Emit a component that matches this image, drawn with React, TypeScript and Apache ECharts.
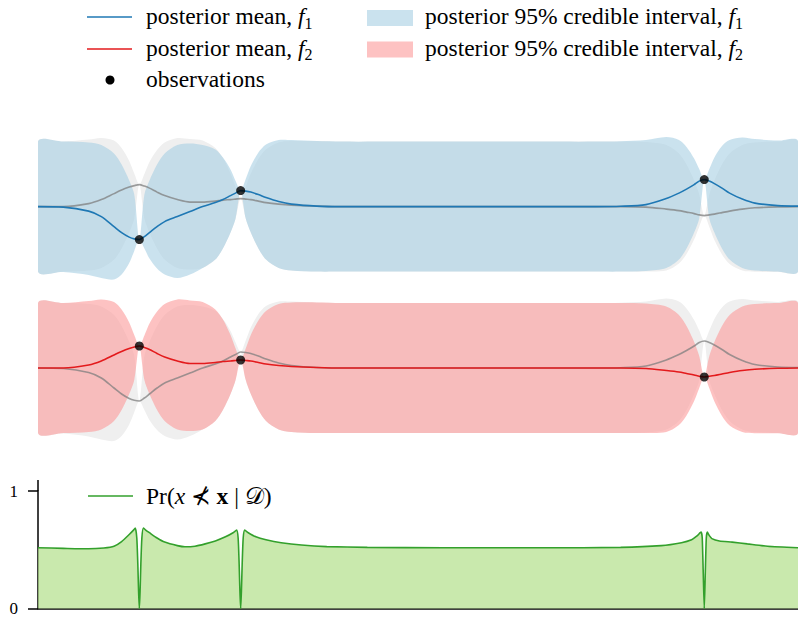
import React, { useEffect, useRef } from 'react';
import * as echarts from 'echarts';

// Shared x grid for the posterior curves (input location)
const X = [0, 0.5, 1, 1.25, 1.5, 1.65, 1.8, 1.9, 2, 2.1, 2.2, 2.35, 2.5, 2.75, 3, 3.25, 3.5, 3.65, 3.8, 3.9, 4, 4.1, 4.2, 4.35, 4.5, 4.75, 5, 5.5, 6, 7, 8, 9, 10, 11, 11.5, 12, 12.4, 12.65, 12.8, 12.95, 13.05, 13.15, 13.25, 13.35, 13.5, 13.65, 13.9, 14.15, 14.6, 15];

// f1 posterior
const F1_MEAN = [0, -0.05, -0.45, -1.0, -2.0, -2.6, -3.05, -3.23, -3.3, -3.0, -2.6, -2.0, -1.5, -1.0, -0.5, 0, 0.4, 0.7, 1.1, 1.35, 1.6, 1.55, 1.45, 1.2, 0.9, 0.5, 0.25, 0.05, 0, 0, 0, 0, 0, 0, 0.03, 0.2, 0.8, 1.35, 1.75, 2.2, 2.55, 2.7, 2.55, 2.3, 1.85, 1.35, 0.75, 0.35, 0.1, 0.05];
const F1_HI = [6.5, 6.5, 6.4, 6.15, 5.3, 4.2, 2.6, 1.2, -3.3, 1.2, 2.6, 4.2, 5.3, 6.15, 6.3, 6.15, 5.7, 4.9, 3.7, 2.55, 1.6, 2.75, 4.05, 5.4, 6.2, 6.65, 6.65, 6.55, 6.5, 6.5, 6.5, 6.5, 6.5, 6.5, 6.53, 6.65, 6.95, 6.65, 5.95, 4.8, 3.75, 2.7, 3.75, 4.9, 6.05, 6.65, 6.9, 6.75, 6.6, 6.55];
const F1_LO = [-6.5, -6.55, -6.85, -7.15, -7.3, -6.8, -5.65, -4.43, -3.3, -4.2, -5.2, -6.2, -6.8, -7.15, -6.8, -6.15, -5.3, -4.2, -2.6, -1.2, 1.6, -1.2, -2.6, -4.2, -5.3, -6.15, -6.4, -6.5, -6.5, -6.5, -6.5, -6.5, -6.5, -6.5, -6.5, -6.45, -6.15, -5.3, -4.2, -2.6, -1.2, 2.7, -1.2, -2.6, -4.2, -5.3, -6.15, -6.4, -6.5, -6.5];

// f2 posterior
const F2_MEAN = [0, 0, 0.3, 0.7, 1.3, 1.65, 1.95, 2.1, 2.2, 2.05, 1.85, 1.45, 1.1, 0.7, 0.45, 0.45, 0.55, 0.65, 0.7, 0.75, 0.8, 0.75, 0.7, 0.55, 0.4, 0.25, 0.15, 0.05, 0, 0, 0, 0, 0, 0, 0, -0.05, -0.25, -0.4, -0.55, -0.7, -0.83, -0.9, -0.83, -0.75, -0.6, -0.45, -0.25, -0.12, -0.03, 0];
const F2_HI = [6.5, 6.5, 6.7, 6.85, 6.6, 5.85, 4.55, 3.3, 2.2, 3.25, 4.45, 5.65, 6.4, 6.85, 6.75, 6.6, 5.85, 4.85, 3.3, 1.95, 0.8, 1.95, 3.3, 4.75, 5.7, 6.4, 6.55, 6.55, 6.5, 6.5, 6.5, 6.5, 6.5, 6.5, 6.5, 6.45, 6.15, 5.3, 4.2, 2.6, 1.2, -0.9, 1.2, 2.6, 4.2, 5.3, 6.15, 6.4, 6.5, 6.5];
const F2_LO = [-6.5, -6.5, -6.4, -6.15, -5.3, -4.2, -2.6, -1.2, 2.2, -1.2, -2.6, -4.2, -5.3, -6.15, -6.3, -6.15, -5.3, -4.2, -2.6, -1.2, 0.8, -1.2, -2.6, -4.2, -5.3, -6.15, -6.4, -6.5, -6.5, -6.5, -6.5, -6.5, -6.5, -6.5, -6.5, -6.5, -6.4, -5.7, -4.75, -3.3, -2.03, -0.9, -2.03, -3.35, -4.8, -5.75, -6.4, -6.52, -6.53, -6.5];

// observations
const OBS_X = [2.0, 4.0, 13.15];
const OBS_F1 = [-3.3, 1.6, 2.7];
const OBS_F2 = [2.2, 0.8, -0.9];

// Pr(x not in x | D)
const P_X = [0, 0.5, 1.0, 1.3, 1.5, 1.65, 1.8, 1.88, 1.92, 1.95, 1.97, 1.985, 2.0, 2.015, 2.03, 2.05, 2.08, 2.12, 2.2, 2.35, 2.5, 2.75, 2.9, 3.1, 3.3, 3.5, 3.7, 3.85, 3.92, 3.95, 3.97, 3.985, 4.0, 4.015, 4.03, 4.05, 4.08, 4.15, 4.3, 4.5, 4.8, 5.2, 5.7, 6.5, 8, 10, 11.5, 12.3, 12.7, 12.9, 13.0, 13.07, 13.09, 13.11, 13.13, 13.15, 13.17, 13.19, 13.21, 13.25, 13.3, 13.45, 13.7, 14.0, 14.4, 15];
const P_VAL = [0.517, 0.512, 0.508, 0.515, 0.53, 0.57, 0.63, 0.665, 0.685, 0.6, 0.38, 0.15, 0, 0.15, 0.38, 0.6, 0.685, 0.67, 0.645, 0.6, 0.565, 0.535, 0.525, 0.53, 0.55, 0.575, 0.61, 0.645, 0.667, 0.6, 0.38, 0.15, 0, 0.15, 0.38, 0.6, 0.667, 0.645, 0.61, 0.585, 0.56, 0.54, 0.527, 0.52, 0.517, 0.517, 0.52, 0.535, 0.56, 0.585, 0.615, 0.645, 0.65, 0.6, 0.3, 0, 0.3, 0.6, 0.65, 0.62, 0.595, 0.575, 0.565, 0.55, 0.53, 0.517];

const P_TICKS = [0, 1];

const FONT = '"Liberation Serif", "DejaVu Serif", "DejaVu Sans", serif';
const BLUE = '#1f78b4';
const BLUE_BAND = '#a6cee3';
const RED = '#e31a1c';
const RED_BAND = '#fb9a99';
const GREEN = '#33a02c';
const GREEN_BAND = '#b2df8a';
const GREY_BAND = '#efefef';
const GREY_LINE = '#7f7f7f';

function bandSeries(name: string, lo: number[], hi: number[], color: string, opacity: number, idx: number): any {
  return {
    type: 'custom',
    name,
    xAxisIndex: idx,
    yAxisIndex: idx,
    silent: true,
    clip: true,
    data: X.map((x, i) => [x, lo[i], hi[i]]),
    encode: { x: 0, y: [1, 2] },
    renderItem: (params: any, api: any) => {
      if (params.dataIndex !== 0) return null;
      const upper = X.map((x, i) => api.coord([x, hi[i]]));
      const lower = X.map((x, i) => api.coord([x, lo[i]])).reverse();
      return {
        type: 'polygon',
        shape: { points: upper.concat(lower), smooth: 0.3 },
        style: { fill: color, opacity },
      };
    },
  };
}

function lineSeries(name: string, y: number[], color: string, idx: number, opacity = 1): any {
  return {
    type: 'line',
    name,
    xAxisIndex: idx,
    yAxisIndex: idx,
    symbol: 'none',
    smooth: 0.3,
    silent: true,
    data: X.map((x, i) => [x, y[i]]),
    lineStyle: { color, width: 1.6, opacity },
  };
}

function obsSeries(y: number[], idx: number): any {
  return {
    type: 'scatter',
    name: 'observations',
    xAxisIndex: idx,
    yAxisIndex: idx,
    symbol: 'circle',
    symbolSize: 9,
    z: 5,
    itemStyle: { color: '#000' },
    data: OBS_X.map((x, i) => [x, y[i]]),
  };
}

function legendText(x: number, y: number, text: string): any {
  return {
    type: 'text',
    x,
    y,
    style: {
      text,
      fill: '#000',
      fontSize: 23.5,
      fontFamily: FONT,
      align: 'left',
      verticalAlign: 'middle',
      lineHeight: 30,
      rich: {
        it: { fontStyle: 'italic', fontSize: 23.5, fontFamily: FONT, lineHeight: 30 },
        bd: { fontWeight: 'bold', fontSize: 23.5, fontFamily: FONT, lineHeight: 30 },
        sub: { fontSize: 16, fontFamily: FONT, verticalAlign: 'bottom' },
      },
    },
  };
}

export default function App() {
  const ref = useRef<HTMLDivElement>(null);

  useEffect(() => {
    document.body.style.margin = '0';
    if (!ref.current) return;
    const chart = echarts.init(ref.current, undefined, { renderer: 'svg' });

    const hiddenX = (g: number) => ({ gridIndex: g, type: 'value', min: 0, max: 15, show: false });
    const hiddenY = (g: number) => ({ gridIndex: g, type: 'value', min: -8.6, max: 8.6, show: false });

    chart.setOption({
      animation: false,
      grid: [
        { left: 38, right: 0, top: 120.6, height: 172 },
        { left: 38, right: 0, top: 282, height: 172 },
        { left: 38, right: 0, top: 491, height: 120 },
      ],
      xAxis: [
        hiddenX(0),
        hiddenX(1),
        {
          gridIndex: 2,
          type: 'value',
          min: 0,
          max: 15,
          axisLine: { show: true, onZero: false, lineStyle: { color: '#000', width: 1.5 } },
          axisTick: { show: false },
          axisLabel: { show: false },
          splitLine: { show: false },
        },
      ],
      yAxis: [
        hiddenY(0),
        hiddenY(1),
        {
          gridIndex: 2,
          type: 'value',
          min: P_TICKS[0],
          max: P_TICKS[1],
          interval: 1,
          axisLine: { show: true, lineStyle: { color: '#000', width: 1.5 } },
          axisTick: { show: true, length: 10, lineStyle: { color: '#000', width: 1.5 } },
          axisLabel: { color: '#000', fontSize: 17, fontFamily: FONT, margin: 20 },
          splitLine: { show: false },
        },
      ],
      series: [
        // top panel: f1 (grey = f2 for reference)
        bandSeries('f2 interval (grey)', F2_LO, F2_HI, GREY_BAND, 1, 0),
        bandSeries('posterior 95% credible interval, f1', F1_LO, F1_HI, BLUE_BAND, 0.6, 0),
        lineSeries('f2 mean (grey)', F2_MEAN, GREY_LINE, 0, 0.75),
        lineSeries('posterior mean, f1', F1_MEAN, BLUE, 0),
        obsSeries(OBS_F1, 0),
        // middle panel: f2 (grey = f1)
        bandSeries('f1 interval (grey)', F1_LO, F1_HI, GREY_BAND, 1, 1),
        bandSeries('posterior 95% credible interval, f2', F2_LO, F2_HI, RED_BAND, 0.6, 1),
        lineSeries('f1 mean (grey)', F1_MEAN, GREY_LINE, 1, 0.75),
        lineSeries('posterior mean, f2', F2_MEAN, RED, 1),
        obsSeries(OBS_F2, 1),
        // bottom panel
        {
          type: 'line',
          name: 'Pr',
          xAxisIndex: 2,
          yAxisIndex: 2,
          symbol: 'none',
          smooth: 0.2,
          silent: true,
          data: P_X.map((x, i) => [x, P_VAL[i]]),
          lineStyle: { color: GREEN, width: 1.6 },
          areaStyle: { color: GREEN_BAND, opacity: 0.7 },
        },
      ],
      graphic: [
        // spine extension above y = 1
        { type: 'line', shape: { x1: 38, y1: 480, x2: 38, y2: 491 }, style: { stroke: '#000', lineWidth: 1.5 } },
        // legend
        { type: 'line', shape: { x1: 87, y1: 17, x2: 132, y2: 17 }, style: { stroke: BLUE, lineWidth: 1.6 } },
        legendText(146, 16, 'posterior mean, {it|f}{sub|1}'),
        { type: 'rect', shape: { x: 367, y: 10, width: 46, height: 16 }, style: { fill: BLUE_BAND, opacity: 0.6 } },
        legendText(425, 16, 'posterior 95% credible interval, {it|f}{sub|1}'),
        { type: 'line', shape: { x1: 87, y1: 49, x2: 132, y2: 49 }, style: { stroke: RED, lineWidth: 1.6 } },
        legendText(146, 47.5, 'posterior mean, {it|f}{sub|2}'),
        { type: 'rect', shape: { x: 367, y: 41.5, width: 46, height: 16 }, style: { fill: RED_BAND, opacity: 0.6 } },
        legendText(425, 47.5, 'posterior 95% credible interval, {it|f}{sub|2}'),
        { type: 'circle', shape: { cx: 110, cy: 80, r: 4.5 }, style: { fill: '#000' } },
        legendText(146, 79, 'observations'),
        { type: 'line', shape: { x1: 88, y1: 496, x2: 133, y2: 496 }, style: { stroke: GREEN, lineWidth: 1.6 } },
        legendText(146, 495.5, 'Pr({it|x} ⊀ {bd|x} | 𝒟)'),
      ],
    });

    return () => chart.dispose();
  }, []);

  return <div ref={ref} style={{ width: 798, height: 617 }} />;
}
